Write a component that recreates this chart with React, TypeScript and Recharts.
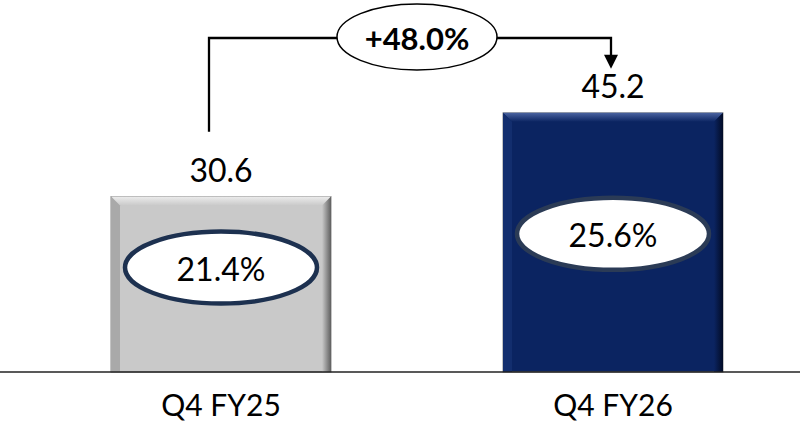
import React from "react"
import { BarChart, Bar, XAxis, YAxis, LabelList, ReferenceLine } from "recharts"

const quarters = ["Q4 FY25", "Q4 FY26"]
const values = [30.6, 45.2]
const margins = ["21.4%", "25.6%"]
const growthLabel = "+48.0%"

const data = quarters.map((q, i) => ({ name: q, value: values[i], margin: margins[i] }))

const FONT = "Lato, 'Liberation Sans', sans-serif"

// bar look per index
const barStyles = [
  { fill: "#c9c9c9", light: "#ececec", dark: "#5f5f5f", side: "#a9a9a9", ring: "#1d3150", ellipseDy: 71 },
  { fill: "#0b2461", light: "#4a63a0", dark: "#020b26", side: "#132e6e", ring: "#2b3b56", ellipseDy: 121 },
]

const BevelBar = (props: any) => {
  const { x, y, width, height, index, payload } = props
  const s = barStyles[index] || barStyles[0]
  const b = 9
  const id = `bv${index}`
  const cx = x + width / 2
  const cy = y + s.ellipseDy
  return (
    <g>
      <defs>
        <linearGradient id={`${id}t`} x1="0" y1="0" x2="0" y2="1">
          <stop offset="0%" stopColor={s.light} />
          <stop offset="100%" stopColor={s.fill} />
        </linearGradient>
        <linearGradient id={`${id}r`} x1="0" y1="0" x2="1" y2="0">
          <stop offset="0%" stopColor={s.fill} />
          <stop offset="100%" stopColor={s.dark} />
        </linearGradient>
      </defs>
      <rect x={x} y={y} width={width} height={height} fill={s.fill} stroke="#8a8a8a" strokeWidth={1} />
      <polygon points={`${x},${y} ${x + width},${y} ${x + width - b},${y + b} ${x + b},${y + b}`} fill={`url(#${id}t)`} />
      <polygon points={`${x},${y} ${x + b},${y + b} ${x + b},${y + height} ${x},${y + height}`} fill={s.side} />
      <polygon points={`${x + width},${y} ${x + width},${y + height} ${x + width - b},${y + height} ${x + width - b},${y + b}`} fill={`url(#${id}r)`} />
      <ellipse cx={cx} cy={cy} rx={96} ry={36} fill="#ffffff" stroke={s.ring} strokeWidth={4.5} />
      <text x={cx} y={cy + 1} textAnchor="middle" dominantBaseline="central" fontSize={32} fontFamily={FONT} fill="#000">
        {payload.margin}
      </text>
    </g>
  )
}

const Bracket = (props: any) => {
  const { x1, y1, x2, y2 } = props
  const top = 38
  const lx = x1 - 12
  const rx = x2 - 2
  const mid = (lx + rx) / 2 + 7
  return (
    <g>
      <path d={`M${lx},${y1} V${top} H${rx} V${y2 - 12}`} fill="none" stroke="#000" strokeWidth={2.3} />
      <polygon points={`${rx - 7},${y2 - 14} ${rx + 7},${y2 - 14} ${rx},${y2}`} fill="#000" />
      <ellipse cx={mid} cy={top - 1} rx={80} ry={33} fill="#fff" stroke="#000" strokeWidth={1.5} />
      <text x={mid} y={top} textAnchor="middle" dominantBaseline="central" fontSize={31} fontWeight={700} fontFamily={FONT} fill="#000">
        {growthLabel}
      </text>
    </g>
  )
}

export default function App() {
  return (
    <div style={{ position: "absolute", left: 0, top: 0, width: 800, height: 425, overflow: "hidden", background: "#fff" }}>
      <BarChart width={809} height={425} data={data} margin={{ top: 28, right: 0, bottom: 0, left: 0 }}>
        <XAxis
          dataKey="name"
          height={53}
          padding={{ left: 25, right: 0 }}
          tickLine={false}
          tickSize={0}
          tickMargin={23}
          axisLine={{ stroke: "#222", strokeWidth: 1.5 }}
          tick={{ fontSize: 30, fill: "#000", fontFamily: FONT }}
        />
        <YAxis hide domain={[0, 60]} />
        <Bar dataKey="value" barSize={220} shape={BevelBar} isAnimationActive={false}>
          <LabelList dataKey="value" position="top" offset={15} fontSize={32} fill="#000" fontFamily={FONT} />
        </Bar>
        <ReferenceLine
          segment={[
            { x: quarters[0], y: 41.9 },
            { x: quarters[1], y: 52.9 },
          ]}
          shape={Bracket}
        />
      </BarChart>
    </div>
  )
}
